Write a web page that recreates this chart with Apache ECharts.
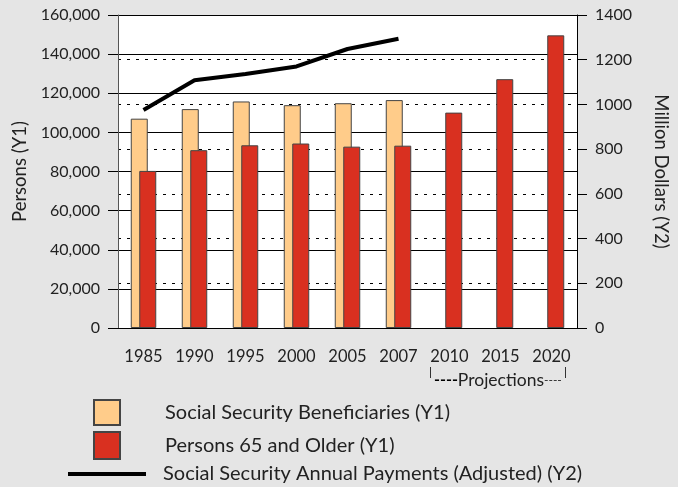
<!DOCTYPE html>
<html>
<head>
<meta charset="utf-8">
<script src="https://cdn.jsdelivr.net/npm/echarts@6/dist/echarts.min.js"></script>
<style>
html,body{margin:0;padding:0;background:#e5e5e5;}
#c{width:678px;height:487px;}
</style>
</head>
<body>
<div id="c"></div>
<script>
var years = ['1985','1990','1995','2000','2005','2007','2010','2015','2020'];
var beneficiaries = [107000, 111900, 115800, 113900, 114900, 116500, null, null, null];
var persons65 = [80300, 90900, 93400, 94300, 92700, 93200, 110100, 127200, 149600];
var payments = [975, 1108, 1136, 1170, 1248, 1294, null, null, null];
var y1Ticks = [0, 160000, 20000];
var y2Ticks = [0, 1400, 200];

var FONT = 'Lato';
var TXT = '#222';
var chart = echarts.init(document.getElementById('c'));
var n1 = 'Social Security Beneficiaries (Y1)';
var n2 = 'Persons 65 and Older (Y1)';
var n3 = 'Social Security Annual Payments (Adjusted) (Y2)';
var legText = {fontFamily: FONT, fontSize: 20, color: TXT};
chart.setOption({
  backgroundColor: '#e5e5e5',
  animation: false,
  textStyle: {fontFamily: FONT},
  grid: {left: 118, right: 101, top: 15, bottom: 159, show: true, backgroundColor: '#fff', borderWidth: 0},
  legend: [
    {data: [n1], left: 88, top: 394, itemWidth: 26, itemHeight: 25, icon: 'rect',
     textStyle: Object.assign({padding: [0,0,0,40]}, legText)},
    {data: [n2], left: 88, top: 426, itemWidth: 26, itemHeight: 27, icon: 'rect',
     textStyle: Object.assign({padding: [0,0,0,40]}, legText)},
    {data: [n3], left: 63, top: 459, itemWidth: 78, itemHeight: 4, icon: 'rect',
     textStyle: Object.assign({padding: [0,0,0,12]}, legText)}
  ],
  xAxis: {
    type: 'category', data: years,
    axisLine: {lineStyle: {color: '#000', width: 1}},
    axisTick: {alignWithLabel: true, length: 11, lineStyle: {color: '#000'}},
    axisLabel: {interval: 0, margin: 20, fontSize: 16.5, color: TXT, fontFamily: FONT}
  },
  yAxis: [
    {type: 'value', min: y1Ticks[0], max: y1Ticks[1], interval: y1Ticks[2], position: 'left',
     name: 'Persons (Y1)', nameLocation: 'middle', nameGap: 88,
     nameTextStyle: {fontSize: 18.5, color: TXT, fontFamily: FONT},
     axisLine: {show: true, lineStyle: {color: '#555', width: 1}},
     axisTick: {show: true, length: 10, lineStyle: {color: '#000'}},
     axisLabel: {margin: 18, fontSize: 16, color: TXT, fontFamily: FONT,
       formatter: function(v){return v.toLocaleString('en-US');}},
     splitLine: {show: true, lineStyle: {color: '#000', width: 1}}
    },
    {type: 'value', min: y2Ticks[0], max: y2Ticks[1], interval: y2Ticks[2], position: 'right',
     name: 'Million Dollars (Y2)', nameLocation: 'middle', nameGap: 74, nameRotate: -90,
     nameTextStyle: {fontSize: 18.5, color: TXT, fontFamily: FONT},
     axisLine: {show: true, lineStyle: {color: '#000', width: 1}},
     axisTick: {show: true, length: 10, lineStyle: {color: '#000'}},
     axisLabel: {margin: 18, fontSize: 16, color: TXT, fontFamily: FONT,
       formatter: function(v){return String(v);}},
     splitLine: {show: true, lineStyle: {color: '#000', width: 1, type: [3, 6]}}
    }
  ],
  series: [
    {name: n1, type: 'bar', yAxisIndex: 0, data: beneficiaries, barWidth: 17, barGap: '-50%',
     itemStyle: {color: '#ffcc8a', borderColor: '#444', borderWidth: 1}},
    {name: n2, type: 'bar', yAxisIndex: 0, data: persons65, barWidth: 17, barGap: '-50%',
     itemStyle: {color: '#d93020', borderColor: '#444', borderWidth: 1}},
    {name: n3, type: 'line', yAxisIndex: 1, data: payments, symbol: 'none', showSymbol: false,
     lineStyle: {color: '#000', width: 4}, itemStyle: {color: '#000'}, z: 5}
  ],
  graphic: [
    {type: 'line', shape: {x1: 430.5, y1: 367, x2: 430.5, y2: 378}, style: {stroke: '#333', lineWidth: 1}},
    {type: 'line', shape: {x1: 565.5, y1: 367, x2: 565.5, y2: 378}, style: {stroke: '#333', lineWidth: 1}},
    {type: 'text', left: 434, top: 371,
     style: {text: '{b|----}{n|Projections}{s|----}', fill: TXT,
       rich: {
         b: {fontFamily: FONT, fontSize: 16, fontWeight: 'bold', fill: '#000'},
         n: {fontFamily: FONT, fontSize: 17.5, fill: TXT},
         s: {fontFamily: FONT, fontSize: 12, fill: TXT}
       }}}
  ]
});
</script>
</body>
</html>
